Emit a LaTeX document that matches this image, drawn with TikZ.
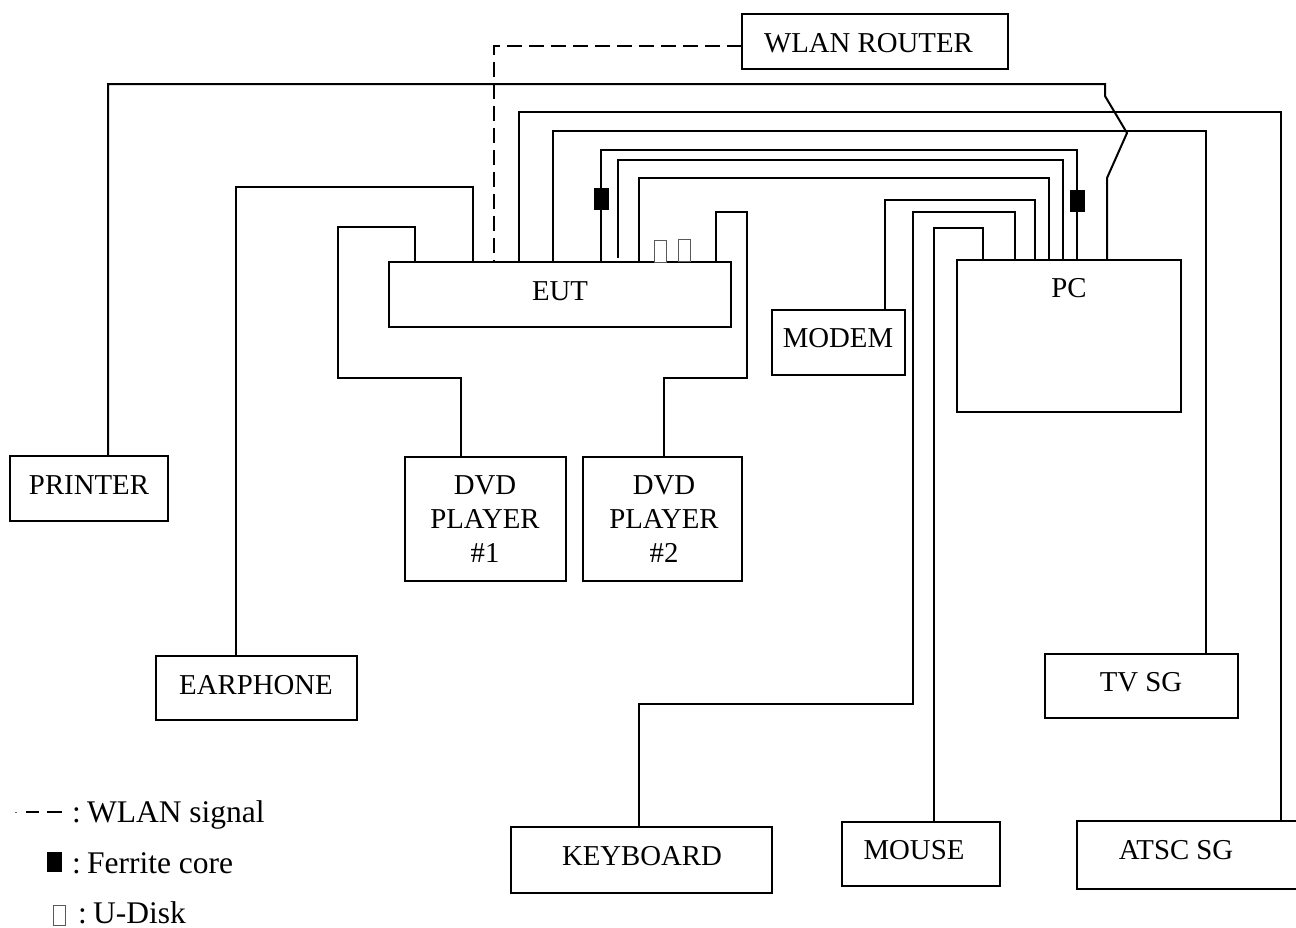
\documentclass[tikz,border=0pt]{standalone}
\usepackage{fontspec}
\setmainfont{Liberation Serif}
\tikzset{
  box/.style={draw=black,line width=2pt,fill=white,inner sep=0pt,outer sep=0pt,rectangle},
  lab/.style={inner sep=0pt,outer sep=0pt,anchor=base,font=\fontsize{28.8}{34}\selectfont,align=center},
  legtext/.style={inner sep=0pt,outer sep=0pt,anchor=base west,font=\fontsize{31.5}{36}\selectfont},
  wire/.style={draw=black,line width=2pt,line join=miter},
  radio/.style={wire,dash pattern=on 15pt off 7pt},
  ferrite/.style={fill=black,draw=none,inner sep=0pt,outer sep=0pt,minimum width=15pt,minimum height=22pt,rectangle},
  udisk/.style={draw=black!65,line width=1pt,fill=white,inner sep=0pt,outer sep=0pt,minimum width=12.5pt,minimum height=22pt,rectangle},
}
\newcommand{\boxat}[5]{\node[box,minimum width={(#4)*1pt-(#2)*1pt},minimum height={(#5)*1pt+0pt-(#3)*1pt}] (#1) at ({((#2)+(#4))/2},{((#3)+(#5))/2}) {};}
\newcommand{\legcolon}{:\kern-1.5pt\ }
\begin{document}
\begin{tikzpicture}[x=1pt,y=-1pt]
\useasboundingbox (0,0) rectangle (1296,927);
\fill[white] (0,0) rectangle (1296,927);

% equipment boxes
\boxat{router}{742}{14}{1008}{69}
\boxat{printer}{10}{456}{168}{521}
\boxat{earphone}{156}{656}{357}{720}
\boxat{eut}{389}{262}{731}{327}
\boxat{pc}{957}{260}{1181}{412}
\boxat{modem}{772}{310}{905}{375}
\boxat{dvda}{405}{457}{566}{581}
\boxat{dvdb}{583}{457}{742}{581}
\boxat{tvsg}{1045}{654}{1238}{718}
\boxat{keyboard}{511}{827}{772}{893}
\boxat{mouse}{842}{822}{1000}{886}
\boxat{atsc}{1077}{821}{1297}{889}

% connectors
\draw[radio] (router.west |- 0,46) -- (494,46) -- (494,46 |- eut.north);
\draw[wire] (108,0 |- printer.north) -- (108,84) -- (1105,84) -- (1105,96) -- (1127,133) -- (1107,178) -- (1107,0 |- pc.north);
\draw[wire] (519,0 |- eut.north) -- (519,112) -- (1281,112) -- (1281,0 |- atsc.north);
\draw[wire] (553,0 |- eut.north) -- (553,131) -- (1206,131) -- (1206,0 |- tvsg.north);
\draw[wire] (601,0 |- eut.north) -- (601,150) -- (1077,150) -- (1077,0 |- pc.north);
\draw[wire] (618,258) -- (618,160) -- (1063,160) -- (1063,0 |- pc.north);
\draw[wire] (639,0 |- eut.north) -- (639,178) -- (1049,178) -- (1049,0 |- pc.north);
\draw[wire] (716,0 |- eut.north) -- (716,212) -- (747,212) -- (747,378) -- (664,378) -- (664,0 |- dvdb.north);
\draw[wire] (415,0 |- eut.north) -- (415,227) -- (338,227) -- (338,378) -- (461,378) -- (461,0 |- dvda.north);
\draw[wire] (236,0 |- earphone.north) -- (236,187) -- (473,187) -- (473,0 |- eut.north);
\draw[wire] (885,0 |- modem.north) -- (885,200) -- (1035,200) -- (1035,0 |- pc.north);
\draw[wire] (639,0 |- keyboard.north) -- (639,704) -- (913,704) -- (913,212) -- (1015,212) -- (1015,0 |- pc.north);
\draw[wire] (934,0 |- mouse.north) -- (934,228) -- (983,228) -- (983,0 |- pc.north);

% ferrite cores and U-disks
\node[ferrite] (fa) at (601,199) {};
\node[ferrite] (fb) at (1077,201) {};
\node[udisk] (ua) at (660.5,251) {};
\node[udisk] (ub) at (684.5,250) {};

% labels
\node[lab] (trouter) at (868.5,52) {WLAN ROUTER};
\node[lab] (tprinter) at (89,494) {PRINTER};
\node[lab] (tearphone) at (256,694) {EARPHONE};
\node[lab] (teut) at (560,300) {EUT};
\node[lab] (tpc) at (1069,297) {PC};
\node[lab] (tmodem) at (838,347) {MODEM};
\node[lab,anchor=center] (tdvda) at (485,519) {DVD\\PLAYER\\\#1};
\node[lab,anchor=center] (tdvdb) at (664,519) {DVD\\PLAYER\\\#2};
\node[lab] (ttv) at (1141,691) {TV SG};
\node[lab] (tkey) at (642,865) {KEYBOARD};
\node[lab] (tmouse) at (914,859) {MOUSE};
\node[lab] (tatsc) at (1176,859) {ATSC SG};

% legend
\draw[wire] (26,812) -- (39,812) (47,812) -- (62,812);
\fill[black!60] (15,811.5) rectangle (16.5,813);
\node[legtext] (lwlan) at (72,822) {\legcolon WLAN signal};
\node[ferrite,minimum height=20pt] (lf) at (54.5,862) {};
\node[legtext] (lfer) at (72,873) {\legcolon Ferrite core};
\node[udisk,minimum height=20pt] (lu) at (59.5,915) {};
\node[legtext] (ludisk) at (78,923) {\legcolon U-Disk};
\end{tikzpicture}
\end{document}
